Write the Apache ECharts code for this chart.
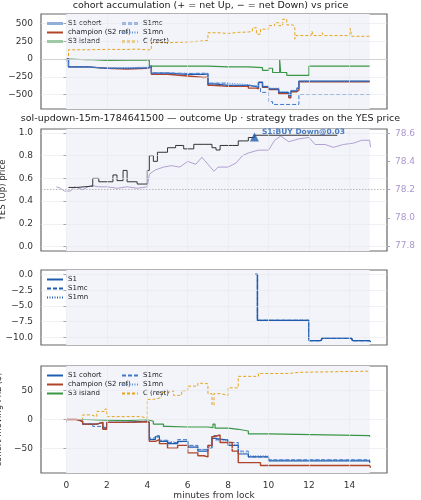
<!DOCTYPE html>
<html><head><meta charset="utf-8">
<script src="https://cdn.jsdelivr.net/npm/echarts@6/dist/echarts.min.js"></script>
<style>html,body{margin:0;padding:0;background:#fff}#c{width:421px;height:500px}</style>
</head><body><div id="c"></div>
<script>
// ---- data (minutes from lock, value) ----
const accS1 = [[0,0],[0.1,-110],[1,-130],[2,-130],[3,-125],[4,-120],[4.1,-95],[4.2,-200],[5,-215],[6,-215],[6.8,-210],[7,-350],[7.3,-370],[8,-370],[9,-390],[9.4,-400],[9.5,-330],[9.7,-390],[10,-420],[10.5,-470],[11,-520],[11.1,-450],[11.4,-410],[11.5,-310],[15,-310]];
const accChamp = [[0,0],[0.1,-110],[1,-130],[2,-140],[3,-130],[4,-110],[4.2,-215],[5,-240],[6,-260],[6.8,-255],[7,-370],[7.2,-385],[8,-380],[9,-410],[9.4,-420],[9.5,-330],[9.7,-400],[10,-430],[10.5,-490],[11,-545],[11.1,-460],[11.4,-440],[11.5,-320],[15,-320]];
const accS3 = [[0,0],[0.1,-10],[1,-10],[1.3,-20],[2,-15],[3,-15],[4,-20],[4.1,-100],[6,-100],[7,-110],[8,-110],[9,-120],[9.7,-160],[10,-130],[10.2,-190],[10.55,-10],[10.6,-190],[10.9,-230],[11.9,-230],[12,-100],[15,-100]];
const accS1mc = [[0,0],[0.1,-110],[1,-130],[2,-130],[3,-125],[4,-100],[4.2,-195],[5,-205],[6,-200],[6.8,-200],[7,-340],[8,-370],[9,-380],[9.4,-400],[9.6,-470],[10,-600],[10.2,-640],[11.4,-640],[11.5,-500],[15,-500]];
const accS1mn = [[0,0],[0.1,-120],[1,-125],[2,-120],[3,-115],[4,-110],[4.2,-200],[5,-200],[6,-205],[6.8,-205],[7,-340],[8,-360],[9,-385],[9.4,-390],[9.5,-320],[9.7,-380],[10,-410],[10.5,-460],[11,-510],[11.1,-440],[11.4,-400],[11.5,-310],[15,-310]];
const accC = [[0,0],[0.1,130],[1,135],[2,135],[3,140],[3.5,130],[4,130],[4.2,230],[5,240],[6,255],[6.8,265],[7,370],[7.5,360],[8,375],[8.5,380],[9,390],[9.2,440],[9.4,350],[9.6,420],[10,470],[10.3,510],[10.5,470],[10.7,560],[10.9,480],[11.2,460],[11.3,280],[11.35,330],[12.1,330],[12.15,390],[12.2,330],[12.6,330],[12.65,370],[12.7,330],[14,330],[14.05,430],[14.1,320],[15,320]];
const yesPrice = [[0.1,0.52],[0.5,0.53],[1.2,0.53],[1.3,0.6],[1.6,0.57],[2.1,0.57],[2.3,0.63],[2.5,0.58],[2.8,0.67],[3,0.57],[3.5,0.55],[4,0.67],[4.1,0.8],[4.3,0.75],[4.5,0.83],[5,0.87],[5.4,0.89],[5.8,0.86],[6.3,0.9],[6.8,0.9],[7.2,0.87],[7.4,0.85],[7.6,0.89],[8.2,0.89],[8.5,0.93],[9,0.96],[9.3,0.98],[13.4,0.98]];
const solUsd = [[-0.5,78.22],[-0.3,78.21],[-0.1,78.19],[0.2,78.19],[0.4,78.22],[0.8,78.2],[1.2,78.23],[1.6,78.22],[2,78.22],[2.5,78.21],[3,78.22],[3.5,78.21],[4,78.22],[4.1,78.31],[4.4,78.34],[4.8,78.36],[5.2,78.37],[5.6,78.36],[6,78.4],[6.4,78.38],[6.7,78.43],[7,78.38],[7.3,78.33],[7.5,78.36],[8,78.36],[8.4,78.39],[8.7,78.44],[9,78.46],[9.5,78.48],[10,78.48],[10.3,78.55],[10.6,78.58],[11,78.54],[11.5,78.56],[12,78.57],[12.3,78.52],[12.8,78.52],[13.2,78.5],[13.7,78.52],[14.2,78.53],[14.6,78.55],[15,78.55],[15.05,78.5]];
const trade = [[9.3,0.965]];
const pnlS1 = [[9.35,0],[9.45,-7.3],[11.9,-7.3],[12.0,-10.5],[12.6,-10.5],[12.65,-10.1],[14.1,-10.1],[14.15,-10.5],[15,-10.5],[15.05,-10.7]];
const movC = [[0,0],[0.8,8],[1.2,5],[1.5,14],[1.9,18],[2,5],[3,5],[3.7,2],[4,35],[4.3,38],[4.7,47],[5,50],[5.3,42],[5.7,50],[6,58],[6.5,63],[6.8,62],[7,45],[7.2,25],[7.3,45],[7.6,42],[8,55],[8.5,75],[9.5,80],[11,82],[11.5,84],[15,84]];
const movS3 = [[0,0],[1,-1],[2,-2],[3,0],[4,-3],[4.3,-8],[4.8,-12],[5,-13],[6,-13],[7,-14],[7.25,-8],[7.35,-15],[8,-17],[8.5,-20],[9,-25],[10,-28],[15,-30]];
const movS1 = [[0,0],[0.5,-3],[0.8,-8],[1.5,-5],[1.8,-15],[2,-5],[3,-3],[4,-5],[4.1,-35],[4.4,-30],[4.6,-38],[5,-42],[5.5,-38],[6,-48],[6.5,-55],[7,-50],[7.2,-33],[7.4,-36],[8,-45],[8.5,-60],[9,-65],[10,-72],[15,-75]];
const movChamp = [[0,0],[0.5,-3],[0.8,-8],[1.5,-5],[1.8,-17],[2,-5],[3,-4],[4,-5],[4.1,-38],[4.4,-35],[4.6,-42],[5,-50],[5.5,-45],[6,-58],[6.5,-63],[6.8,-65],[7,-45],[7.2,-30],[7.3,-27],[7.6,-40],[8,-40],[8.2,-55],[8.5,-75],[9.6,-80],[15,-80],[15.05,-84]];
const movS1mc = [[0,0],[0.5,-3],[0.8,-8],[1.3,-12],[1.8,-15],[2,-5],[3,-3],[4,-5],[4.1,-32],[4.4,-28],[4.6,-36],[5,-40],[5.5,-35],[6,-45],[6.5,-52],[7,-45],[7.2,-28],[7.4,-35],[8,-40],[8.5,-55],[9,-65],[10,-70],[15,-75]];
const movS1mn = [[0,0],[0.5,-3],[0.8,-8],[1.5,-5],[1.8,-15],[2,-5],[3,-3],[4,-5],[4.1,-33],[4.4,-30],[4.6,-37],[5,-40],[5.5,-37],[6,-46],[6.5,-52],[7,-47],[7.2,-30],[7.4,-37],[8,-43],[8.5,-58],[9,-63],[10,-70],[15,-70]];
const xTicks = [0,2,4,6,8,10,12,14];
const accTicks = [-500,-250,0,250,500];
const yesTicks = [0,0.2,0.4,0.6,0.8,1.0];
const solTicks = [77.8,78.0,78.2,78.4,78.6];
const pnlTicks = [-10,-7.5,-5,-2.5,0];
const movTicks = [-50,0,50];

const BLUE='#1f5cb0', RED='#b0442a', GREEN='#3a9646', ORANGE='#e5a41c', PURPLE='#a996cc';
const F='DejaVu Sans';
const grids=[{t:14,h:95},{t:129,h:122},{t:270,h:75},{t:366,h:107}];
const xr=[-1.26,15.86];
const option={animation:false,textStyle:{fontFamily:F},
 grid:grids.map(g=>({left:41,width:346,top:g.t,height:g.h,containLabel:false,outerBoundsMode:'none',show:true,borderColor:'#666',borderWidth:1.2,backgroundColor:'#fff'})),
 xAxis:grids.map((g,i)=>({type:'value',gridIndex:i,min:xr[0],max:xr[1],
   axisLine:{show:false},splitLine:{show:false},
   axisTick:{show:true,customValues:xTicks,length:3,lineStyle:{color:'#444'}},
   axisLabel:{show:i===3,customValues:xTicks,fontSize:9,color:'#333',fontFamily:F},
   name:i===3?'minutes from lock':'',nameLocation:'middle',nameGap:17,nameTextStyle:{fontSize:9,color:'#333',fontFamily:F}})),
 yAxis:[],series:[],legend:[],title:[
  {text:'cohort accumulation (+ = net Up, − = net Down) vs price',left:'center',top:0,padding:[1,0],textStyle:{fontSize:9.5,fontWeight:'normal',color:'#222',fontFamily:F}},
  {text:'sol-updown-15m-1784641500 — outcome Up · strategy trades on the YES price',left:'center',top:113,padding:[1,0],textStyle:{fontSize:9.5,fontWeight:'normal',color:'#222',fontFamily:F}}]};
function yax(gi,min,max,ticks,name,fmt,extra){return Object.assign({type:'value',gridIndex:gi,min:min,max:max,
  axisLine:{show:false},splitLine:{show:false},
  axisTick:{show:true,customValues:ticks,length:3,lineStyle:{color:'#444'}},
  axisLabel:{customValues:ticks,fontSize:9,color:'#333',fontFamily:F,formatter:fmt},
  name:name,nameLocation:'middle',nameGap:27,nameTextStyle:{fontSize:8.5,color:'#333',fontFamily:F}},extra||{});}
const neg=v=>String(v).replace('-','−');
option.yAxis.push(yax(0,-704,634,accTicks,'acc. net YES (shares)',v=>neg(v)));
option.yAxis.push(yax(1,-0.04,1.035,yesTicks,'YES (Up) price',v=>v.toFixed(1)));
option.yAxis.push(yax(1,77.765,78.63,solTicks,'SOL/USD (strike dotted = YES 0.5)',v=>v.toFixed(1),{position:'right',
  axisLabel:{customValues:solTicks,fontSize:9,color:PURPLE,fontFamily:F,formatter:v=>v.toFixed(1)},nameTextStyle:{fontSize:7.5,color:PURPLE,fontFamily:F},nameGap:26,axisTick:{show:true,customValues:solTicks,length:3,lineStyle:{color:PURPLE}}}));
option.yAxis.push(yax(2,-11.2,0.7,pnlTicks,'strategy PnL ($)',v=>neg(v.toFixed(1))));
option.yAxis.push(yax(3,-93,93,movTicks,'cohort moving PnL ($)',v=>neg(v)));
function bg(xi,yi,yt){
  const ml=xTicks.map(x=>({xAxis:x})).concat(yt.map(y=>({yAxis:y})));
  return {type:'line',xAxisIndex:xi,yAxisIndex:yi,data:[],silent:true,
   markArea:{silent:true,itemStyle:{color:'#f2f4f9'},data:[[{xAxis:0},{xAxis:15}]]},
   markLine:{silent:true,symbol:'none',label:{show:false},lineStyle:{color:'#e6e8ee',width:0.6,type:'solid'},data:ml}};}
function ln(name,xi,yi,data,color,type,w,extra){return Object.assign({type:'line',name:name,xAxisIndex:xi,yAxisIndex:yi,data:data,step:'end',
  showSymbol:false,symbol:'none',lineStyle:{color:color,width:w||1.2,type:type||'solid'},itemStyle:{color:color},z:3},extra||{});}
const S=option.series;
S.push(bg(0,0,accTicks));
S.push({type:'line',xAxisIndex:0,yAxisIndex:0,data:[],silent:true,markLine:{silent:true,symbol:'none',label:{show:false},lineStyle:{color:'#ccc',width:0.8,type:'solid'},data:[{yAxis:0}]}});
S.push(ln('C (rest)',0,0,accC,ORANGE,[3,2],1));
S.push(ln('S3 island',0,0,accS3,GREEN,'solid',1.2));
S.push(ln('champion (S2 ref)',0,0,accChamp,RED,'solid',1.4));
S.push(ln('S1 cohort',0,0,accS1,BLUE,'solid',1.2));
S.push(ln('S1mc',0,0,accS1mc,'#3f78cc',[4,2],1));
S.push(ln('S1mn',0,0,accS1mn,'#5b8fd8',[1,1.5],1));
S.push(bg(1,1,yesTicks));
S.push({type:'line',xAxisIndex:1,yAxisIndex:1,data:[],silent:true,markLine:{silent:true,symbol:'none',label:{show:false},lineStyle:{color:'#aaa',width:0.8,type:[1.5,1.5]},data:[{yAxis:0.5}]}});
S.push(ln('SOL/USD',1,2,solUsd,PURPLE,'solid',0.9,{step:false}));
S.push(ln('YES',1,1,yesPrice,'#333','solid',1));
S.push({type:'scatter',xAxisIndex:1,yAxisIndex:1,data:trade,symbol:'triangle',symbolSize:9,itemStyle:{color:BLUE},z:5,
  label:{show:true,position:'right',offset:[-2,-5],formatter:'S1:BUY Down@0.03',fontSize:7.5,fontWeight:'bold',color:BLUE,fontFamily:F}});
S.push(bg(2,3,pnlTicks));
S.push(ln('S1',2,3,pnlS1,BLUE,'solid',1.4));
S.push(ln('S1mc ',2,3,pnlS1,BLUE,[4,2],1.2));
S.push(ln('S1mn ',2,3,pnlS1,BLUE,[1,1.5],1.2));
S.push(bg(3,4,movTicks));
S.push(ln('C (rest) ',3,4,movC,ORANGE,[3,2],1));
S.push(ln('S3 island ',3,4,movS3,GREEN,'solid',1.2));
S.push(ln('S1mc  ',3,4,movS1mc,'#3f78cc',[4,2],1));
S.push(ln('S1mn  ',3,4,movS1mn,'#5b8fd8',[1,1.5],1));
S.push(ln('S1 cohort ',3,4,movS1,BLUE,'solid',1.2));
S.push(ln('champion (S2 ref) ',3,4,movChamp,RED,'solid',1.4));
function lg(left,top,data){return {left:left,top:top,orient:'vertical',itemWidth:16,itemHeight:8,itemGap:2,selectedMode:false,
  itemStyle:{opacity:0},
  textStyle:{fontSize:7,color:'#222',fontFamily:F},formatter:n=>n.trim(),
  padding:[3,3],data:data};}
option.legend.push(lg(43,17,['S1 cohort','champion (S2 ref)','S3 island']));
option.legend.push(lg(118,17,['S1mc','S1mn','C (rest)']));
option.legend.push(lg(43,273,['S1','S1mc ','S1mn ']));
option.legend.push(lg(43,369,['S1 cohort ','champion (S2 ref) ','S3 island ']));
option.legend.push(lg(118,369,['S1mc  ','S1mn  ','C (rest) ']));
echarts.init(document.getElementById('c'),null,{renderer:'canvas'}).setOption(option);
</script></body></html>
